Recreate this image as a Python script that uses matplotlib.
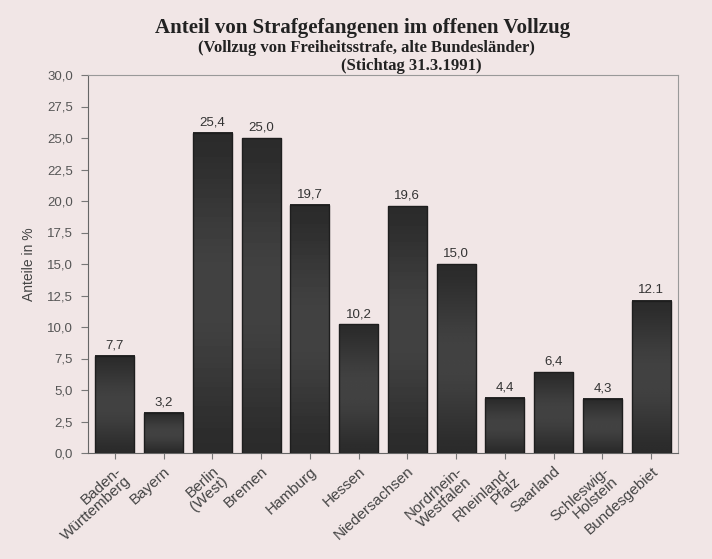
import numpy as np
import matplotlib
matplotlib.use("Agg")
import matplotlib.pyplot as plt

laender = ["Baden-\nWürttemberg", "Bayern", "Berlin\n(West)", "Bremen", "Hamburg",
           "Hessen", "Niedersachsen", "Nordrhein-\nWestfalen", "Rheinland-\nPfalz",
           "Saarland", "Schleswig-\nHolstein", "Bundesgebiet"]
anteile = [7.7, 3.2, 25.4, 25.0, 19.7, 10.2, 19.6, 15.0, 4.4, 6.4, 4.3, 12.1]
beschriftung = ["7,7", "3,2", "25,4", "25,0", "19,7", "10,2", "19,6", "15,0",
                "4,4", "6,4", "4,3", "12.1"]
yticks = [0, 2.5, 5, 7.5, 10, 12.5, 15, 17.5, 20, 22.5, 25, 27.5, 30]

bg = "#f1e6e6"
plt.rcParams["font.family"] = ["Liberation Sans", "DejaVu Sans"]

fig = plt.figure(figsize=(7.12, 5.59), dpi=100, facecolor=bg)
ax = fig.add_axes([88 / 712, 1 - 453 / 559, (678 - 88) / 712, (453 - 75) / 559])
ax.set_facecolor(bg)

x = np.arange(len(anteile))
breite = 0.8
bars = ax.bar(x, anteile, width=breite, color="none", edgecolor="#1e1e1e", linewidth=1.0, zorder=3)

# shaded fill: darker at the edges, slightly lighter towards the middle
grad = np.linspace(0, 1, 64)
shade = 0.17 + 0.09 * np.sin(np.pi * grad) ** 1.5
for b in bars:
    x0, w, h = b.get_x(), b.get_width(), b.get_height()
    img = np.outer(shade[::-1], np.ones(8))
    ax.imshow(img, cmap="gray", vmin=0, vmax=1, aspect="auto",
              extent=(x0, x0 + w, 0, h), zorder=2, interpolation="bilinear")

for xi, v, t in zip(x, anteile, beschriftung):
    ax.text(xi, v + 0.35, t, ha="center", va="bottom", fontsize=9.5, color="#333333")

ax.set_xlim(-0.55, 11.55)
ax.set_ylim(0, 30)
ax.set_yticks(yticks)
ax.set_yticklabels([f"{t:.1f}".replace(".", ",") for t in yticks], fontsize=9.5, color="#555555")
ax.set_xticks(x)
ax.set_xticklabels(laender, rotation=42, ha="right", rotation_mode="anchor",
                   fontsize=11, color="#444444", linespacing=0.95)
ax.tick_params(axis="y", direction="out", length=5, color="#777777", pad=6)
ax.tick_params(axis="x", direction="out", length=4, color="#777777", pad=4)
ax.set_ylabel("Anteile in %", fontsize=10, color="#444444", labelpad=8)

for s in ["left", "bottom"]:
    ax.spines[s].set_color("#666666")
for s in ["top", "right"]:
    ax.spines[s].set_color("#999999")

fig.text(0.51, 1 - 28 / 559, "Anteil von Strafgefangenen im offenen Vollzug",
         ha="center", va="center", fontsize=15, fontweight="bold",
         family="Liberation Serif", color="#222222")
fig.text(0.515, 1 - 48 / 559, "(Vollzug von Freiheitsstrafe, alte Bundesländer)",
         ha="center", va="center", fontsize=12, fontweight="bold",
         family="Liberation Serif", color="#222222")
fig.text(0.578, 1 - 66 / 559, "(Stichtag 31.3.1991)",
         ha="center", va="center", fontsize=12, fontweight="bold",
         family="Liberation Serif", color="#222222")

fig.savefig("out.png", dpi=100, facecolor=bg)
